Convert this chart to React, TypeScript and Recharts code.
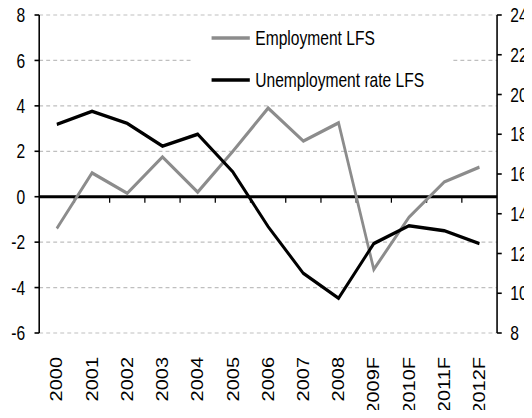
import React from 'react';
import { LineChart, Line, XAxis, YAxis, CartesianGrid, ReferenceLine, Legend } from 'recharts';

const categories = ['2000', '2001', '2002', '2003', '2004', '2005', '2006', '2007', '2008', '2009F', '2010F', '2011F', '2012F'];
const employment = [-1.4, 1.05, 0.15, 1.75, 0.2, 2.0, 3.9, 2.45, 3.25, -3.2, -0.9, 0.65, 1.3];
const unemployment = [18.5, 19.15, 18.55, 17.4, 18.0, 16.1, 13.35, 11.0, 9.75, 12.5, 13.4, 13.15, 12.5];
const leftTicks = [-6, -4, -2, 0, 2, 4, 6, 8];
const rightTicks = [8, 10, 12, 14, 16, 18, 20, 22, 24];
const seriesNames = ['Employment LFS', 'Unemployment rate LFS'];

const data = categories.map((c, i) => ({ year: c, emp: employment[i], unemp: unemployment[i] }));

const S = 0.78;
const W = 672;
const H = 418;
const FONT = 'Liberation Sans, Arial, sans-serif';
const GRAY = '#8c8c8c';

const XTick = (props: any) => {
  const { x, y, payload } = props;
  return (
    <g transform={`translate(${x},${y})`}>
      <text
        x={0}
        y={0}
        dy="0.36em"
        transform="rotate(-90)"
        textAnchor="end"
        fontSize={20}
        fontFamily={FONT}
        fill="#000"
      >
        {payload.value}
      </text>
    </g>
  );
};

const ZeroLine = (props: any) => {
  const { x1, y1, x2, y2 } = props;
  const n = categories.length;
  const step = (x2 - x1) / n;
  const ticks = [];
  for (let i = 1; i < n; i++) {
    const tx = x1 + step * i;
    ticks.push(<line key={i} x1={tx} x2={tx} y1={y1} y2={y1 + 6} stroke="#000" strokeWidth={1.6} />);
  }
  return (
    <g>
      <line x1={x1} y1={y1} x2={x2} y2={y2} stroke="#000" strokeWidth={3} />
      {ticks}
    </g>
  );
};

const renderLegend = () => (
  <svg width={333} height={78} style={{ display: 'block', background: '#fff' }}>
    <line x1={24} x2={73} y1={18} y2={18} stroke={GRAY} strokeWidth={3.5} />
    <text x={80} y={18} dominantBaseline="central" fontSize={20} fontFamily={FONT} fill="#000">
      {seriesNames[0]}
    </text>
    <line x1={24} x2={73} y1={60} y2={60} stroke="#000" strokeWidth={3.5} />
    <text x={80} y={60} dominantBaseline="central" fontSize={20} fontFamily={FONT} fill="#000">
      {seriesNames[1]}
    </text>
  </svg>
);

export default function App() {
  return (
    <div style={{ width: 524, height: H, margin: '-8px 0 -8px 0', overflow: 'hidden' }}>
      <div style={{ width: W, height: H, transform: `scaleX(${S})`, transformOrigin: '0 0' }}>
        <LineChart width={W} height={H} data={data} margin={{ top: 15, right: 0, left: 0, bottom: 0 }}>
          <CartesianGrid
            yAxisId="left"
            vertical={false}
            stroke="#bfbfbf"
            strokeDasharray="5 4"
            strokeWidth={1.2}
          />
          <XAxis
            dataKey="year"
            scale="band"
            height={85}
            axisLine={false}
            tickLine={false}
            tickSize={0}
            tickMargin={24}
            interval={0}
            tick={<XTick />}
          />
          <YAxis
            yAxisId="left"
            orientation="left"
            width={40}
            domain={[-6, 8]}
            ticks={leftTicks}
            interval={0}
            axisLine={{ stroke: '#000', strokeWidth: 2 }}
            tickLine={{ stroke: '#000', strokeWidth: 1.6 }}
            tickSize={6}
            tickMargin={12}
            tick={{ fontSize: 20, fontFamily: FONT, fill: '#000' }}
          />
          <YAxis
            yAxisId="right"
            orientation="right"
            width={45}
            domain={[8, 24]}
            ticks={rightTicks}
            interval={0}
            axisLine={{ stroke: '#000', strokeWidth: 2 }}
            tickLine={{ stroke: '#000', strokeWidth: 1.6 }}
            tickSize={6}
            tickMargin={11}
            tick={{ fontSize: 20, fontFamily: FONT, fill: '#000', textAnchor: 'start' }}
          />
          <ReferenceLine yAxisId="left" y={0} shape={<ZeroLine />} />
          <Legend
            layout="horizontal"
            verticalAlign="middle"
            align="center"
            content={renderLegend}
            wrapperStyle={{ left: 237, top: 20, width: 333, height: 78 }}
          />
          <Line
            yAxisId="left"
            dataKey="emp"
            name={seriesNames[0]}
            stroke={GRAY}
            strokeWidth={3.5}
            dot={false}
            isAnimationActive={false}
          />
          <Line
            yAxisId="right"
            dataKey="unemp"
            name={seriesNames[1]}
            stroke="#000"
            strokeWidth={3.5}
            dot={false}
            isAnimationActive={false}
          />
        </LineChart>
      </div>
    </div>
  );
}
